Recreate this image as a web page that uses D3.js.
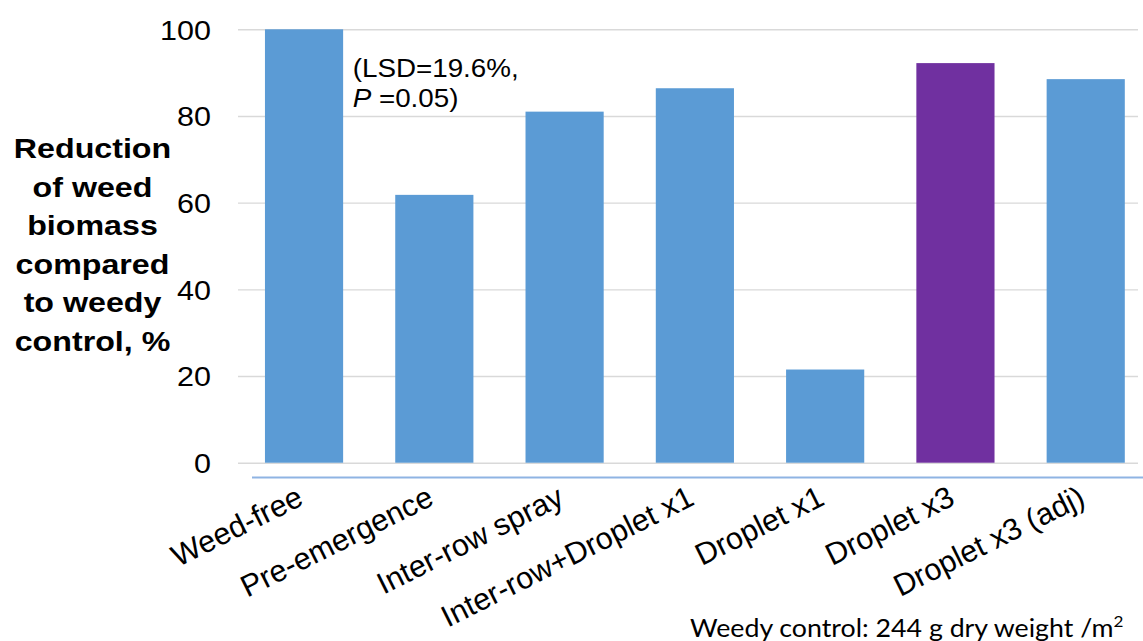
<!DOCTYPE html>
<html>
<head>
<meta charset="utf-8">
<script src="https://cdn.jsdelivr.net/npm/d3@7"></script>
<style>
  html, body { margin: 0; padding: 0; background: #fff; }
  svg { display: block; }
  text { font-family: "Liberation Sans", Arial, sans-serif; fill: #000; }
</style>
</head>
<body>
<svg id="chart" width="1143" height="641"></svg>
<script>
// ---- data ----
const categories = ["Weed-free", "Pre-emergence", "Inter-row spray", "Inter-row+Droplet x1", "Droplet x1", "Droplet x3", "Droplet x3 (adj)"];
const values = [100, 61.8, 81.0, 86.4, 21.5, 92.2, 88.5];
const highlighted = ["Droplet x3"];
const yTicks = [0, 20, 40, 60, 80, 100];
const yTitleLines = ["Reduction", "of weed", "biomass", "compared", "to weedy", "control, %"];
const noteLines = ["(LSD=19.6%,", "=0.05)"];
const footnote = "Weedy control: 244 g dry weight /m";

// ---- layout ----
const svg = d3.select("#chart");
const plotLeft = 238, plotRight = 1138;
const x = d3.scaleBand().domain(categories).range([238.9, 238.9 + 7 * 130.28]).paddingInner(0.4).paddingOuter(0.2);
const y = d3.scaleLinear().domain([0, 100]).range([462.7, 29.3]);

// gridlines + y tick labels
const stretch = 1.09;
const yAxis = svg.append("g")
  .attr("transform", `translate(${plotLeft},0)`)
  .call(d3.axisLeft(y).tickValues(yTicks).tickSize(-(plotRight - plotLeft)).tickPadding(27).tickFormat(d3.format("d")));
yAxis.select(".domain").remove();
yAxis.selectAll(".tick line").attr("stroke", "#d9d9d9").attr("stroke-width", 1.4);
yAxis.selectAll(".tick text")
  .attr("font-size", 28)
  .attr("font-family", "Liberation Sans, Arial, sans-serif")
  .attr("fill", "#000")
  .attr("x", -27 / stretch)
  .attr("transform", `scale(${stretch},1)`)
  .attr("dy", "0.35em");

// bars
svg.append("g").selectAll("rect")
  .data(categories)
  .join("rect")
  .attr("x", d => x(d))
  .attr("width", x.bandwidth())
  .attr("y", (d, i) => y(values[i]))
  .attr("height", (d, i) => y(0) - y(values[i]))
  .attr("fill", d => highlighted.includes(d) ? "#7030a0" : "#5b9bd5");

// decorative blue rule under the axis
svg.append("line")
  .attr("x1", 252).attr("x2", 1143).attr("y1", 477.5).attr("y2", 477.5)
  .attr("stroke", "#8fb4e3").attr("stroke-width", 2.2);

// x category labels (rotated)
svg.append("g").selectAll("text")
  .data(categories)
  .join("text")
  .attr("transform", d => `translate(${x(d) + x.bandwidth() / 2 + 1},504) rotate(-26.5)`)
  .attr("text-anchor", "end")
  .attr("font-size", 30.5)
  .text(d => d);

// y axis title
const yt = svg.append("g").attr("transform", `translate(92.5,0) scale(1.13,1)`);
yt.selectAll("text")
  .data(yTitleLines)
  .join("text")
  .attr("x", 0)
  .attr("y", (d, i) => 158 + i * 38.6)
  .attr("text-anchor", "middle")
  .attr("font-weight", "bold")
  .attr("font-size", 28.5)
  .text(d => d);

// LSD annotation
const ann = svg.append("g").attr("transform", `translate(352.7,0) scale(${stretch},1)`);
ann.append("text").attr("x", 0).attr("y", 76.7).attr("font-size", 25.5).text(noteLines[0]);
const t2 = ann.append("text").attr("x", 0).attr("y", 106.7).attr("font-size", 25.5);
t2.append("tspan").attr("font-style", "italic").text("P");
t2.append("tspan").text(" " + noteLines[1]);

// footnote
const fg = svg.append("g").attr("transform", "translate(690,636.5) scale(1.07,1)");
const fn = fg.append("text")
  .attr("x", 0).attr("y", 0)
  .attr("font-size", 25)
  .style("font-family", "Lato, 'Open Sans', sans-serif")
  .attr("fill", "#111");
fn.append("tspan").text(footnote);
fn.append("tspan").attr("font-size", 16).attr("dy", -10).text("2");
</script>
</body>
</html>
